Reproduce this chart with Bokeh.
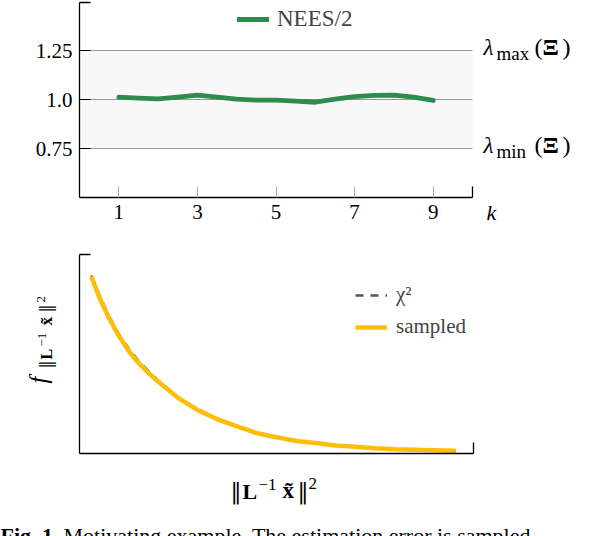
import math
from bokeh.plotting import figure
from bokeh.models import Label, Legend, LegendItem, FixedTicker, BoxAnnotation
from bokeh.layouts import column
from bokeh.embed import file_html
from bokeh.resources import INLINE

# ---------------- data ----------------
K = [1, 1.5, 2, 2.5, 3, 3.5, 4, 4.5, 5, 5.5, 6, 6.5, 7, 7.5, 8, 8.5, 9]
NEES_HALF = [1.012, 1.007, 1.003, 1.012, 1.022, 1.012, 1.002, 0.997, 0.997,
             0.992, 0.986, 1.002, 1.015, 1.021, 1.022, 1.012, 0.995]
X_TICKS = [1, 3, 5, 7, 9]
Y_TICKS = [0.75, 1.0, 1.25]
Y_TICK_LABELS = ["0.75", "1.0", "1.25"]
BAND_LOW, BAND_HIGH = 0.75, 1.25
K_AXIS = (0, 10)
NEES_AXIS = (0.5, 1.495)

CHI_X = [0.6, 1.0, 1.5, 2.0, 2.5, 3.0, 3.5, 4.0, 5.0, 6.0, 7.0, 8.0, 9.0,
         10.0, 11.0, 12.0, 13.0, 14.0, 15.0, 16.0, 17.0, 18.0, 19.1]
CHI_PDF = [0.895, 0.80, 0.69, 0.60, 0.528, 0.466, 0.414, 0.366, 0.283, 0.222,
           0.176, 0.137, 0.106, 0.084, 0.066, 0.051, 0.042, 0.033, 0.027,
           0.022, 0.018, 0.015, 0.013]
SAMPLED_PDF = [0.89, 0.785, 0.68, 0.59, 0.515, 0.455, 0.405, 0.36, 0.28,
               0.218, 0.172, 0.136, 0.102, 0.082, 0.063, 0.053, 0.040, 0.034,
               0.026, 0.021, 0.019, 0.016, 0.014]
NORM_AXIS = (0, 20)
PDF_AXIS = (0, 1.0)

FONT = "Liberation Serif"
MATH_FONT = "DejaVu Serif"
GREEN = "#2E8B4E"
YELLOW = "#FDBE0A"

# ---------------- geometry (pixels) ----------------
W = 594
T_H, B_H = 235, 301
T_X0_PX, T_PX_X = 79, 39.3      # page x of k=0, px per unit
T_Y1_PX, T_PX_Y = 99, 196       # page y of value 1.0, px per unit
B_X0_PX, B_PX_X = 79, 19.7
B_Y0_PX, B_PX_Y = 453, 199      # page y of pdf=0
B_TOP = T_H
BASE_SHIFT = 0.42                # em correction of the alphabetic baseline


def piece(p, text, px, py, fb, size=20, style="normal", angle=0.0,
          baseline="alphabetic", align="left", font=FONT):
    if baseline == "alphabetic":
        if angle == 0.0:
            py -= BASE_SHIFT * size
        else:
            px -= BASE_SHIFT * size
    p.add_layout(Label(x=px, y=fb - py, x_units="screen", y_units="screen",
                       text=text, text_font=font, text_font_size=f"{size}px",
                       text_font_style=style, text_color="black", angle=angle,
                       text_baseline=baseline, text_align=align))


def style_axes(p):
    for ax in (p.xaxis[0], p.yaxis[0]):
        ax.axis_line_color = "black"
        ax.axis_line_width = 1.3
        ax.major_tick_out = 0
        ax.minor_tick_out = 0
        ax.major_tick_in = 11
        ax.minor_tick_in = 11
        ax.minor_tick_line_color = "black"
        ax.minor_tick_line_width = 1.3
        ax.major_label_text_font = FONT
        ax.major_label_text_font_size = "21px"
        ax.major_label_text_color = "black"


def make_fig(h, xr, yr):
    return figure(width=W, height=h, x_range=xr, y_range=yr,
                  min_border_left=0, min_border_right=0, min_border_top=0,
                  min_border_bottom=0, outline_line_color=None,
                  toolbar_location=None, output_backend="svg")


# ---------------- top plot ----------------
t_xr = (-T_X0_PX / T_PX_X, (W - T_X0_PX) / T_PX_X)
t_yr = (1 - (T_H - T_Y1_PX) / T_PX_Y, 1 + T_Y1_PX / T_PX_Y)
p1 = make_fig(T_H, t_xr, t_yr)
style_axes(p1)
p1.xaxis.fixed_location = NEES_AXIS[0]
p1.xaxis.bounds = K_AXIS
p1.yaxis.fixed_location = K_AXIS[0]
p1.yaxis.bounds = NEES_AXIS
p1.xaxis.ticker = FixedTicker(ticks=X_TICKS, minor_ticks=[K_AXIS[1]])
p1.xaxis.major_tick_line_color = "#aaaaaa"
p1.xaxis.major_label_standoff = 7
p1.yaxis.ticker = FixedTicker(ticks=Y_TICKS, minor_ticks=[NEES_AXIS[1]])
p1.yaxis.major_tick_line_color = "black"
p1.yaxis.major_label_standoff = 7
p1.yaxis.major_label_overrides = {t: l for t, l in zip(Y_TICKS, Y_TICK_LABELS)}
p1.xgrid.visible = False
p1.ygrid.visible = False

p1.add_layout(BoxAnnotation(left=K_AXIS[0], right=K_AXIS[1], bottom=BAND_LOW,
                            top=BAND_HIGH, fill_color="#f8f8f8", fill_alpha=1.0,
                            line_color=None, level="image"))
grid = p1.segment(x0=K_AXIS[0], x1=K_AXIS[1], y0=Y_TICKS, y1=Y_TICKS,
                  line_color="#999999", line_width=1)
grid.level = "underlay"

nees = p1.line(K, NEES_HALF, line_color=GREEN, line_width=4.8, line_join="round",
               line_cap="round")
leg1 = Legend(items=[LegendItem(label="NEES/2", renderers=[nees])],
              location=(237, 203), padding=0, margin=0, glyph_width=32,
              glyph_height=24, label_height=24, label_standoff=8,
              label_text_font=FONT, label_text_font_size="23px",
              border_line_color=None, background_fill_alpha=0)
p1.add_layout(leg1)

FB1 = T_H
for lbl, yb in (("max", 57), ("min", 155)):
    piece(p1, "λ", 483, yb, FB1, size=23, style="italic")
    piece(p1, lbl, 496, yb + 4, FB1, size=19)
    piece(p1, "(", 534, yb, FB1, size=24)
    piece(p1, "Ξ", 542, yb, FB1, size=24, style="bold")
    piece(p1, ")", 562, yb, FB1, size=24)
piece(p1, "k", 486, 221, FB1, size=22, style="italic")

# ---------------- bottom plot ----------------
b_xr = (-B_X0_PX / B_PX_X, (W - B_X0_PX) / B_PX_X)
b_yr = ((B_Y0_PX - (B_TOP + B_H)) / B_PX_Y, (B_Y0_PX - B_TOP) / B_PX_Y)
p2 = make_fig(B_H, b_xr, b_yr)
style_axes(p2)
p2.xaxis.fixed_location = PDF_AXIS[0]
p2.xaxis.bounds = NORM_AXIS
p2.yaxis.fixed_location = NORM_AXIS[0]
p2.yaxis.bounds = PDF_AXIS
p2.xaxis.ticker = FixedTicker(ticks=[], minor_ticks=[NORM_AXIS[1]])
p2.yaxis.ticker = FixedTicker(ticks=[], minor_ticks=[PDF_AXIS[1]])
p2.xgrid.visible = False
p2.ygrid.visible = False

chi = p2.line(CHI_X, CHI_PDF, line_color="#555555", line_width=2.4,
              line_dash="8 7")
smp = p2.line(CHI_X, SAMPLED_PDF, line_color=YELLOW, line_width=4.5,
              line_join="round")
leg2 = Legend(items=[LegendItem(label="χ²", renderers=[chi]),
                     LegendItem(label="sampled", renderers=[smp])],
              location=(355, 197), padding=0, margin=0, spacing=7,
              glyph_width=32, glyph_height=24, label_height=24,
              label_standoff=9, label_text_font=FONT,
              label_text_font_size="21px", border_line_color=None,
              background_fill_alpha=0)
p2.add_layout(leg2)

FB2 = B_TOP + B_H
# x label ||L^-1 x~||^2
piece(p2, "‖", 230, 500, FB2, size=22, font=MATH_FONT)
piece(p2, "L", 242, 500, FB2, size=22, style="bold")
piece(p2, "−1", 258, 491, FB2, size=17)
piece(p2, "x̃", 282, 500, FB2, size=23, style="bold")
piece(p2, "‖", 297, 500, FB2, size=22, font=MATH_FONT)
piece(p2, "2", 308, 490, FB2, size=17)

# y label f_{||L^-1 x~||^2}, rotated
A = math.pi / 2
piece(p2, "f", 48, 383, FB2, size=25, style="italic", angle=A)
piece(p2, "‖", 53, 368, FB2, size=16, angle=A, font=MATH_FONT)
piece(p2, "L", 53, 359, FB2, size=16, style="bold", angle=A)
piece(p2, "−1", 47, 346, FB2, size=13, angle=A)
piece(p2, "x̃", 53, 325, FB2, size=17, style="bold", angle=A)
piece(p2, "‖", 53, 312, FB2, size=16, angle=A, font=MATH_FONT)
piece(p2, "2", 46, 302, FB2, size=13, angle=A)

# caption (cut off at the bottom edge, as in the reference)
piece(p2, "Fig. 1.", 0, 522, FB2, size=22, style="bold", baseline="top")
piece(p2, "Motivating example. The estimation error is sampled", 63, 522,
      FB2, size=22, baseline="top")

layout = column(p1, p2, spacing=0)
open("out.html", "w").write(file_html(layout, INLINE))
